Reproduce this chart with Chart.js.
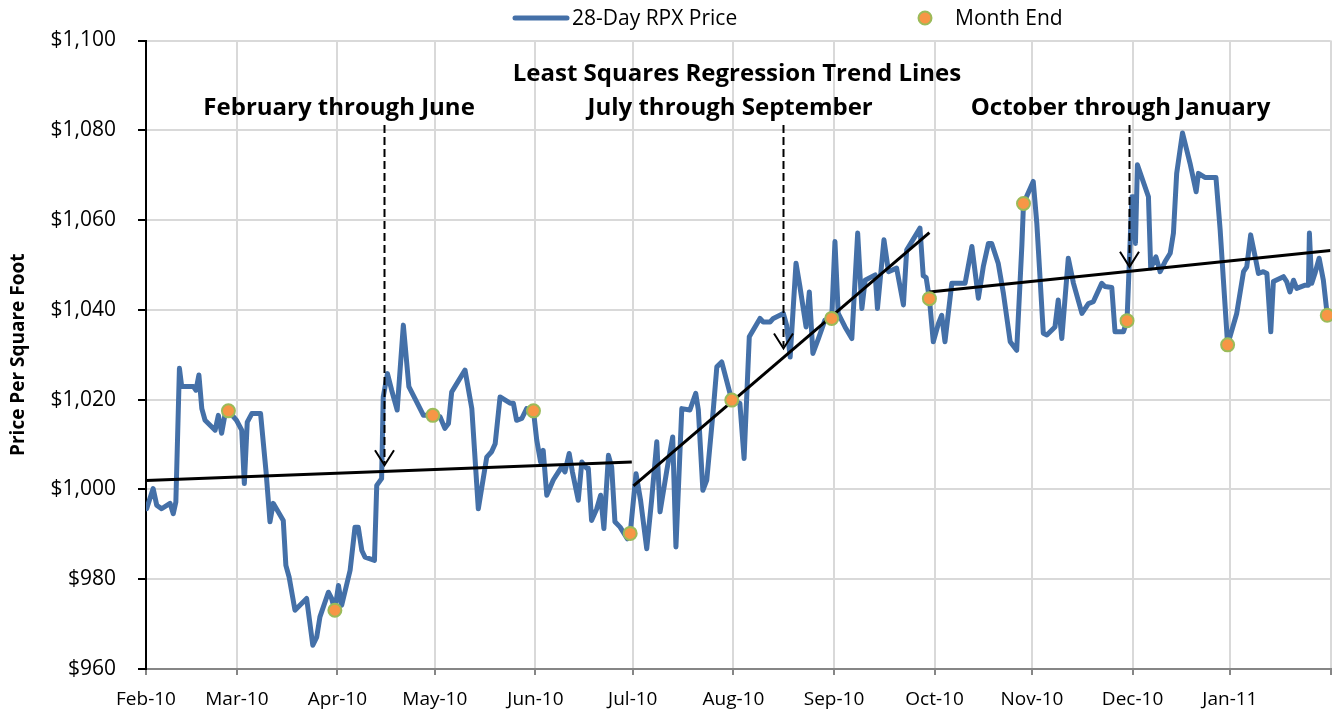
<!DOCTYPE html>
<html><head><meta charset="utf-8">
<script src="https://cdn.jsdelivr.net/npm/chart.js@4.4.1/dist/chart.umd.min.js"></script>
<style>html,body{margin:0;padding:0;background:#fff;overflow:hidden}</style>
</head><body>
<canvas id="c" width="1332" height="721"></canvas>
<script>
// ---- Data ----
const monthTickDays = [0, 28, 59, 89, 120, 150, 181, 212, 243, 273, 304, 334, 365];
const monthTickLabels = ['Feb-10','Mar-10','Apr-10','May-10','Jun-10','Jul-10','Aug-10','Sep-10','Oct-10','Nov-10','Dec-10','Jan-11',''];
const yTickValues = [960, 980, 1000, 1020, 1040, 1060, 1080, 1100];

const priceDays = [
  0.2,2.2,3.3,4.8,7.4,8.4,9.2,10.3,11.0,14.6,15.4,16.3,17.2,18.2,21.3,22.3,23.3,24.3,25.4,27.9,
  29.5,30.3,31.2,32.6,35.3,37.0,38.2,39.2,42.3,43.1,44.1,45.9,49.5,51.4,52.6,53.6,56.2,57.2,58.2,59.3,
  60.3,62.9,64.4,65.4,66.5,67.5,70.4,71.1,72.6,73.1,74.4,75.7,77.4,79.3,81.0,83.4,85.5,88.4,90.6,92.1,
  93.2,94.2,95.2,98.3,100.4,102.4,105.0,106.5,107.6,109.1,112.2,113.2,114.2,115.8,117.3,119.4,120.4,121.6,122.4,123.5,
  125.5,127.1,128.1,129.1,130.4,131.4,133.2,134.3,135.8,136.3,137.3,138.9,140.1,141.1,142.5,143.5,144.5,146.1,148.3,149.2,
  151.0,152.4,154.3,155.8,157.4,158.4,160.5,162.3,163.3,165.1,167.6,169.4,170.2,171.6,172.8,174.8,175.9,177.4,180.5,183.0,
  184.3,185.9,189.2,190.2,192.3,193.3,196.4,197.4,198.5,200.3,201.5,203.4,204.4,205.5,207.2,209.2,211.3,212.3,213.3,215.4,
  217.5,219.3,220.6,221.6,224.7,225.4,227.4,228.8,231.3,233.4,234.4,238.5,239.5,240.4,241.4,242.6,244.2,245.2,246.2,248.3,
  252.4,254.5,256.5,258.0,259.6,260.6,262.6,264.2,266.3,268.3,269.9,270.4,273.4,274.5,276.5,277.6,280.1,281.1,282.2,284.2,
  285.8,288.4,290.4,291.9,294.5,295.5,297.6,298.6,301.2,302.3,303.8,304.3,304.9,305.5,308.9,309.6,311.2,312.5,314.0,315.6,
  316.6,317.6,319.4,321.7,323.6,324.3,326.3,329.7,331.0,332.0,333.3,336.1,338.2,339.2,340.4,341.8,342.8,344.3,345.4,346.6,
  347.4,350.5,351.5,352.5,353.6,354.6,357.2,358.2,358.5,359.2,360.2,361.5,362.8,364.0
];
const priceValues = [
  995.7,1000.2,996.5,995.7,996.9,994.6,997.2,1027.0,1022.9,1022.9,1022.1,1025.5,1018.0,1015.4,1013.2,1016.5,1012.5,1016.5,1017.5,1015.4,
  1013.2,1001.3,1015.0,1016.9,1016.9,1003.9,992.8,996.9,993.1,983.1,980.5,973.1,975.7,965.3,967.1,971.6,977.1,975.7,973.1,978.6,
  974.2,982.0,991.6,991.6,986.4,984.9,984.2,1000.9,1002.4,1020.6,1025.8,1022.1,1017.7,1036.6,1022.9,1019.5,1016.5,1016.5,1016.2,1013.6,
  1014.7,1021.7,1022.9,1026.6,1018.0,995.7,1007.2,1008.4,1010.2,1020.6,1019.2,1019.2,1015.4,1015.8,1018.0,1017.5,1011.0,1006.1,1008.7,998.7,
  1002.1,1003.9,1005.0,1003.9,1008.0,1003.9,997.6,1006.1,1004.7,1004.7,993.1,995.7,998.7,991.3,1007.6,1005.0,992.8,991.6,989.0,990.2,
  1003.5,997.6,986.8,997.6,1010.6,995.0,1004.3,1011.7,987.2,1018.0,1017.7,1021.4,1017.7,999.8,1002.1,1017.7,1027.3,1028.4,1019.9,1019.2,
  1006.9,1034.0,1038.1,1037.3,1037.3,1038.1,1039.2,1036.6,1029.5,1050.4,1045.2,1036.2,1044.0,1030.3,1033.6,1037.7,1038.1,1055.2,1039.2,1036.2,
  1033.6,1057.1,1040.3,1046.6,1047.8,1040.3,1055.6,1048.5,1049.3,1041.1,1053.3,1058.2,1047.6,1047.2,1042.5,1032.9,1037.0,1038.8,1032.9,1045.9,
  1045.9,1054.1,1042.6,1049.6,1054.8,1054.8,1050.4,1043.7,1032.9,1031.0,1054.4,1063.7,1068.6,1059.3,1034.8,1034.4,1036.2,1042.2,1033.6,1051.5,
  1045.9,1039.2,1041.4,1041.8,1045.9,1045.2,1045.0,1035.1,1035.1,1037.6,1065.2,1065.2,1054.8,1072.3,1065.2,1049.3,1051.8,1048.5,1050.7,1052.6,
  1057.1,1070.4,1079.4,1072.7,1066.3,1070.4,1069.5,1069.5,1057.8,1046.6,1032.2,1039.2,1048.5,1049.6,1056.7,1051.8,1048.1,1048.5,1048.1,1035.1,
  1046.3,1047.4,1046.3,1044.0,1046.6,1044.8,1045.5,1045.5,1057.1,1045.9,1048.1,1051.5,1046.6,1038.8
];
const monthEndDays = [25.4, 58.2, 88.4, 119.4, 149.2, 180.5, 211.3, 241.4, 270.4, 302.3, 333.3, 364.0];
const monthEndValues = [1017.5, 973.1, 1016.5, 1017.5, 990.2, 1019.9, 1038.1, 1042.5, 1063.7, 1037.6, 1032.2, 1038.8];

const trendFebJunDays = [0, 149.7];
const trendFebJunValues = [1002.0, 1006.1];
const trendJulSepDays = [150.2, 241.4];
const trendJulSepValues = [1000.8, 1057.2];
const trendOctJanDays = [241.4, 365];
const trendOctJanValues = [1044.0, 1053.2];

const seriesNames = ['28-Day RPX Price', 'Month End'];
const yAxisTitle = 'Price Per Square Foot';
const headline = 'Least Squares Regression Trend Lines';
const periodLabels = ['February through June', 'July through September', 'October through January'];
const periodLabelDays = [59.5, 180.0, 300.3];
const headlineDay = 182.1;
const arrowDays = [73.4, 196.2, 302.9];
const arrowTipValues = [1005.4, 1031.4, 1049.6];

// ---- Styles ----
const BLUE = '#4470A8';
const ORANGE = '#F79646';
const GREEN = '#9BBB59';
const FONT = '"Open Sans", "Liberation Sans", sans-serif';

const pts = (xs, ys) => xs.map((x, i) => ({x, y: ys[i]}));

const annotationPlugin = {
  id: 'annot',
  afterDatasetsDraw(chart) {
    const {ctx, scales: {x, y}} = chart;
    ctx.save();
    ctx.fillStyle = '#000';
    ctx.textAlign = 'center';
    ctx.textBaseline = 'middle';
    ctx.font = 'bold 24px ' + FONT;
    ctx.fillText(headline, x.getPixelForValue(headlineDay), y.getPixelForValue(1092.6));
    periodLabels.forEach((t, i) => {
      ctx.fillText(t, x.getPixelForValue(periodLabelDays[i]), y.getPixelForValue(1084.9));
    });
    // arrows
    ctx.strokeStyle = '#000';
    ctx.lineWidth = 2;
    arrowDays.forEach((d, i) => {
      const px = Math.round(x.getPixelForValue(d)) + 0.5;
      const top = y.getPixelForValue(1081.2);
      const tip = y.getPixelForValue(arrowTipValues[i]);
      ctx.setLineDash([8, 4]);
      ctx.beginPath();
      ctx.moveTo(px, top);
      ctx.lineTo(px, tip - 2);
      ctx.stroke();
      ctx.setLineDash([]);
      ctx.beginPath();
      ctx.moveTo(px - 9.5, tip - 15);
      ctx.lineTo(px, tip);
      ctx.lineTo(px + 9.5, tip - 15);
      ctx.stroke();
    });
    ctx.restore();
  },
  afterDraw(chart) {
    const ctx = chart.ctx;
    ctx.save();
    // legend
    const ly = 18;
    ctx.strokeStyle = BLUE;
    ctx.lineWidth = 5;
    ctx.lineCap = 'round';
    ctx.beginPath();
    ctx.moveTo(515, ly); ctx.lineTo(567, ly);
    ctx.stroke();
    ctx.fillStyle = '#000';
    ctx.font = '21px ' + FONT;
    ctx.textAlign = 'left';
    ctx.textBaseline = 'middle';
    ctx.fillText(seriesNames[0], 572, ly + 1);
    ctx.beginPath();
    ctx.arc(925, ly, 6.5, 0, Math.PI * 2);
    ctx.fillStyle = ORANGE; ctx.fill();
    ctx.lineWidth = 2; ctx.strokeStyle = GREEN; ctx.stroke();
    ctx.fillStyle = '#000';
    ctx.fillText(seriesNames[1], 955, ly + 1);
    ctx.restore();
  }
};

function draw() {
  new Chart(document.getElementById('c'), {
    type: 'line',
    data: {
      datasets: [
        {label: seriesNames[1], data: pts(monthEndDays, monthEndValues), showLine: false,
         pointRadius: 6.5, pointBackgroundColor: ORANGE, pointBorderColor: GREEN, pointBorderWidth: 2, order: 0,
         clip: false},
        {label: 't1', data: pts(trendFebJunDays, trendFebJunValues), borderColor: '#000', borderWidth: 3, pointRadius: 0, order: 1},
        {label: 't2', data: pts(trendJulSepDays, trendJulSepValues), borderColor: '#000', borderWidth: 3, pointRadius: 0, order: 1},
        {label: 't3', data: pts(trendOctJanDays, trendOctJanValues), borderColor: '#000', borderWidth: 3, pointRadius: 0, order: 1},
        {label: seriesNames[0], data: pts(priceDays, priceValues), borderColor: BLUE, borderWidth: 5,
         pointRadius: 0, tension: 0, borderJoinStyle: 'round', borderCapStyle: 'round', order: 2}
      ]
    },
    options: {
      responsive: false,
      animation: false,
      devicePixelRatio: 1,
      layout: {autoPadding: false, padding: {top: 40.5, right: 1.5, left: 0, bottom: 0}},
      plugins: {legend: {display: false}, tooltip: {enabled: false}},
      scales: {
        x: {
          type: 'linear', min: 0, max: 365,
          afterBuildTicks: s => { s.ticks = monthTickDays.map(v => ({value: v})); },
          afterFit: s => { s.height = 52; s.paddingLeft = 0; s.paddingRight = 0; },
          ticks: {
            autoSkip: false, maxRotation: 0, minRotation: 0, padding: 13,
            color: '#000', font: {family: FONT, size: 19},
            callback: (v, i) => monthTickLabels[i]
          },
          grid: {color: '#d9d9d9', lineWidth: 2, tickColor: '#868686', tickLength: 6},
          border: {color: '#868686', width: 2}
        },
        y: {
          min: 960, max: 1100,
          afterBuildTicks: s => { s.ticks = yTickValues.map(v => ({value: v})); },
          afterFit: s => { s.width = 146; },
          ticks: {
            padding: 22, color: '#000', font: {family: FONT, size: 21},
            callback: v => '$' + v.toLocaleString('en-US')
          },
          grid: {color: '#d9d9d9', lineWidth: 2, tickColor: '#000', tickLength: 8},
          border: {color: '#000', width: 2},
          title: {display: true, text: yAxisTitle, color: '#000',
                  font: {family: FONT, size: 19, weight: 'bold'}, padding: {top: 7, bottom: 0}}
        }
      }
    },
    plugins: [annotationPlugin]
  });
}
const fl = [document.fonts.load('21px "Open Sans"'), document.fonts.load('bold 24px "Open Sans"')];
Promise.all(fl).then(draw, draw);
</script>
</body></html>
